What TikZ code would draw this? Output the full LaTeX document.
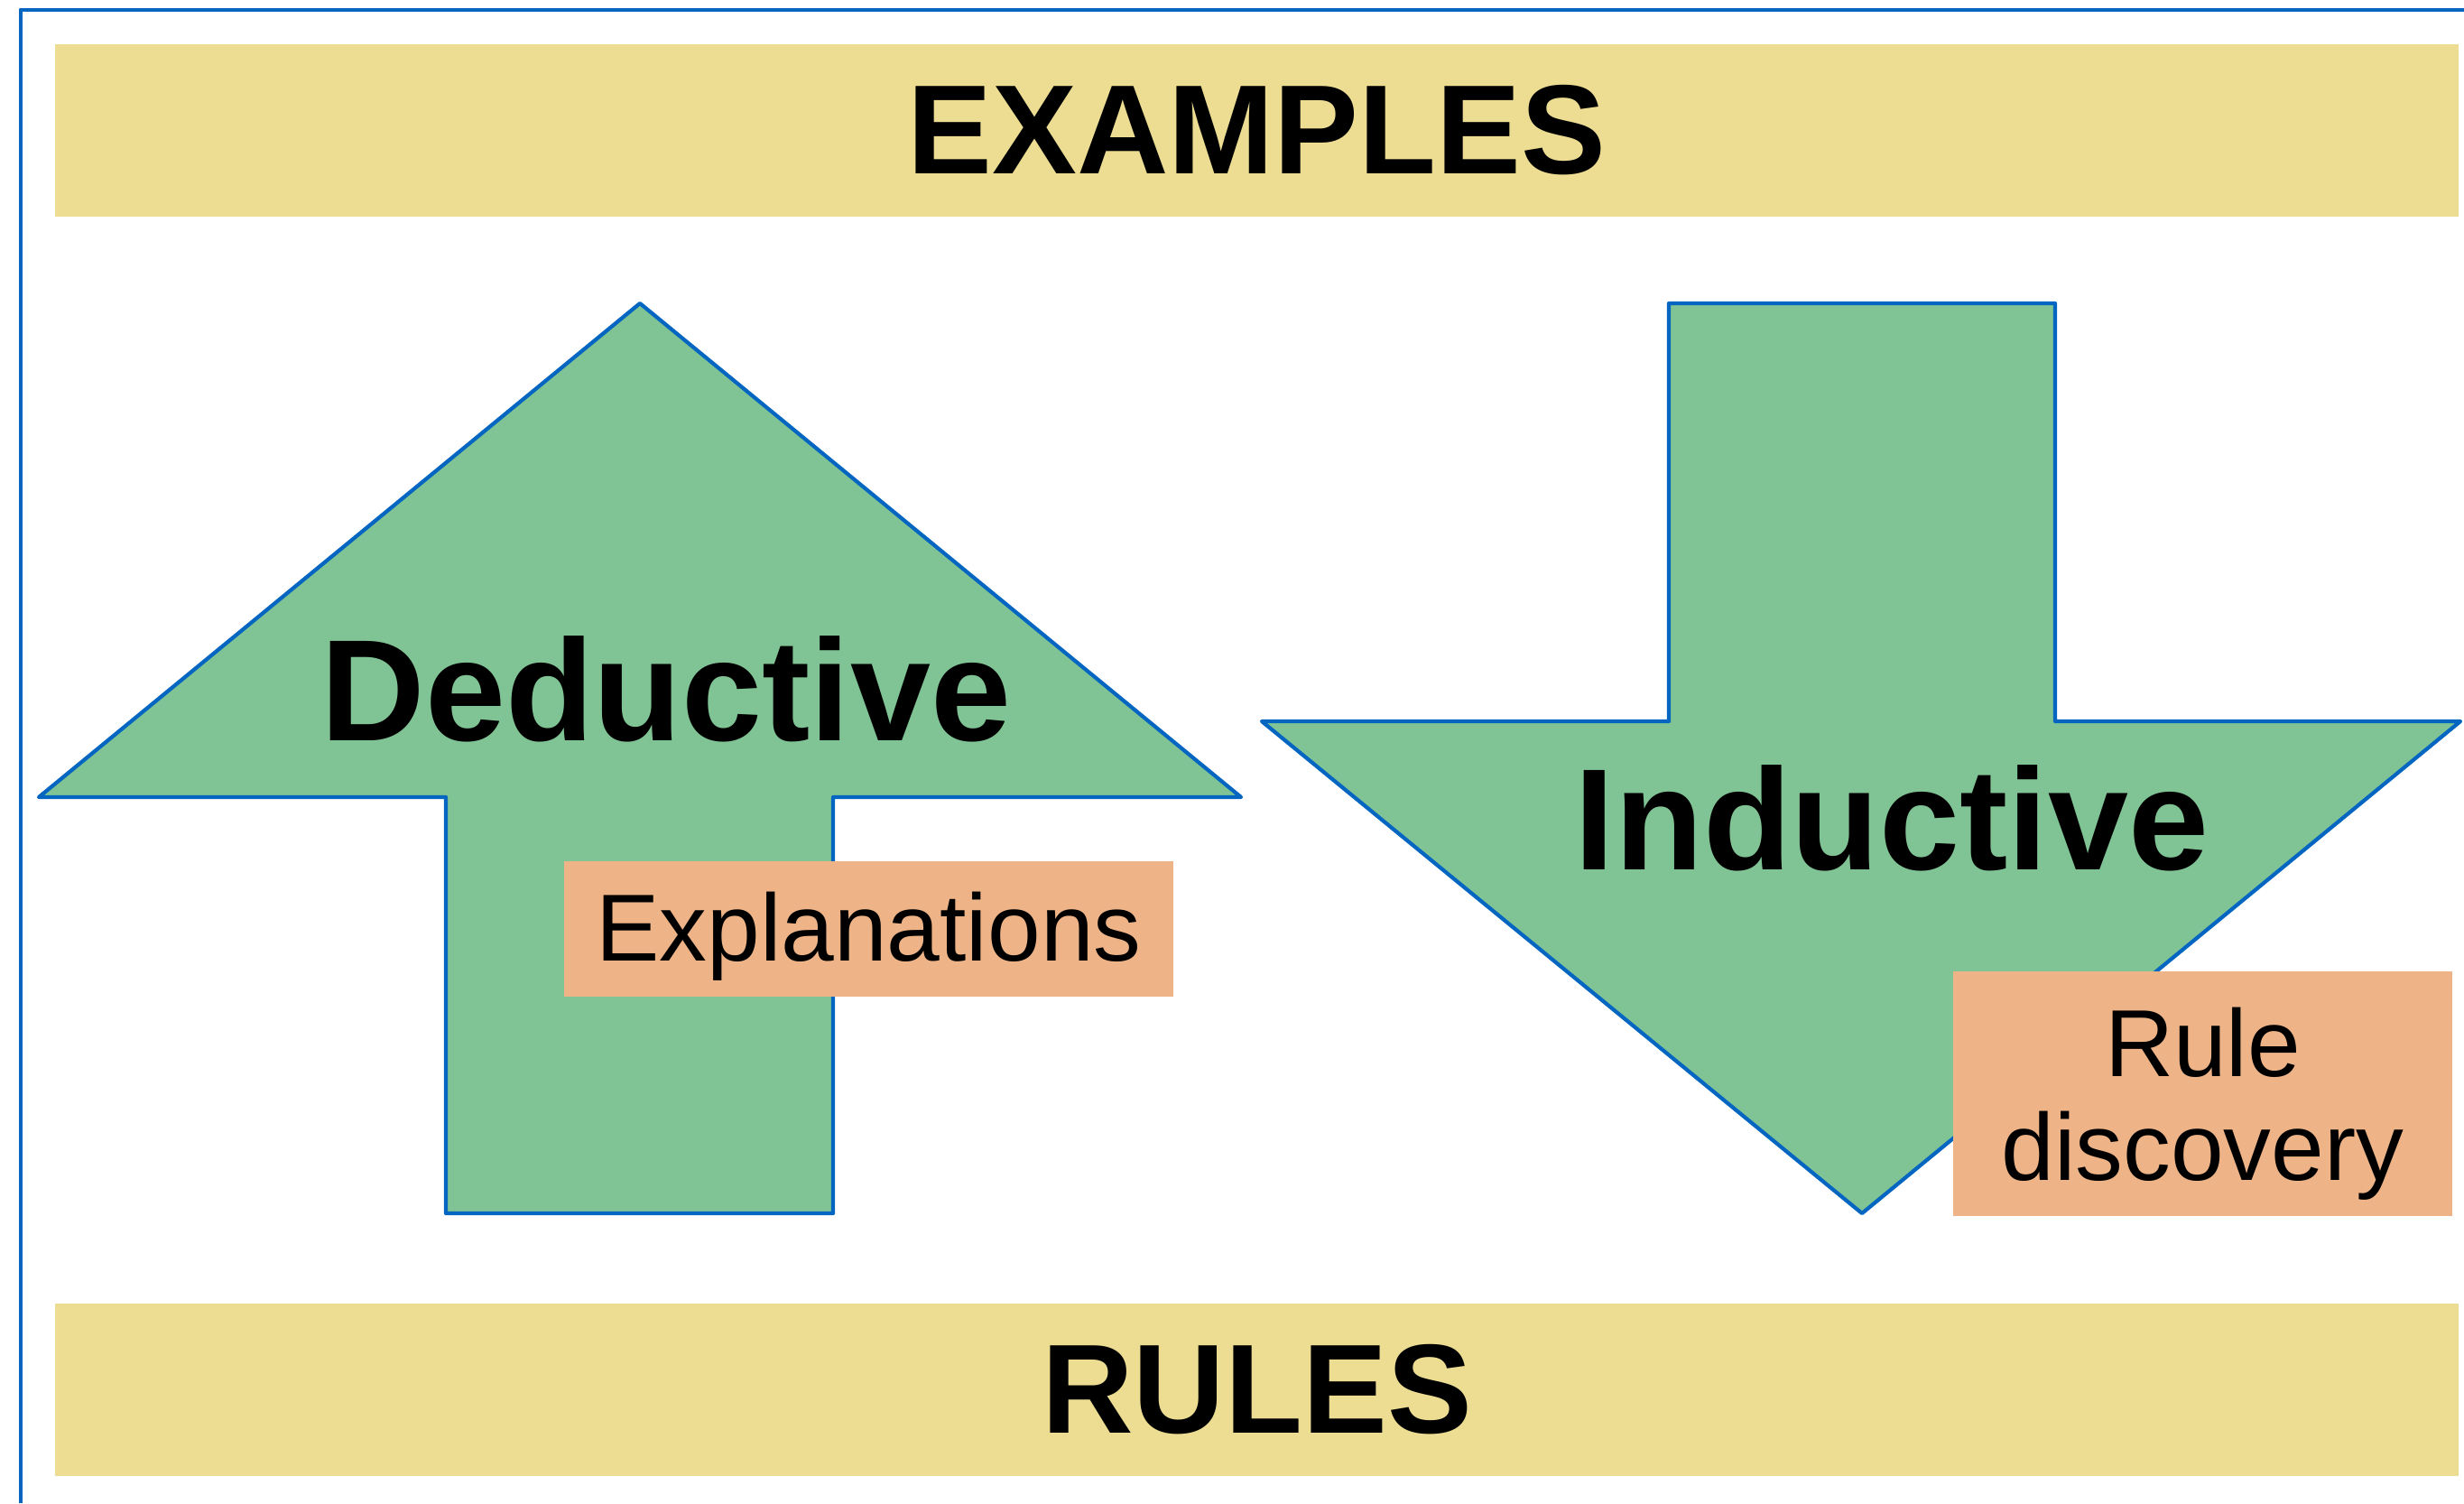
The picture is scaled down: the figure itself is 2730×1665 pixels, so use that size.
\documentclass[tikz,border=0pt]{standalone}
\usepackage{fontspec}
\setmainfont{Liberation Sans}
\definecolor{lineblue}{HTML}{0566C1}
\definecolor{bandyellow}{HTML}{ECDD93}
\definecolor{arrowgreen}{HTML}{80C495}
\definecolor{boxorange}{HTML}{EEB487}
\begin{document}
\begin{tikzpicture}[x=0.01cm, y=-0.01cm,
                    band/.style = {fill=bandyellow, minimum width=26.61cm, minimum height=1.91cm,
                                   font=\fontsize{40}{44}\selectfont\bfseries},
                    bigarrow/.style = {draw=lineblue, fill=arrowgreen, line width=1.2pt, line join=round},
                    tag/.style = {fill=boxorange, inner sep=0pt, align=center,
                                  font=\fontsize{30}{32.7}\selectfont},
                    kind/.style = {anchor=base, font=\fontsize{45.5}{50}\selectfont\bfseries}]
                            \useasboundingbox (0,0) rectangle (2730,1665);
                            % frame, cut off at the right and at the bottom
                            \draw[lineblue, line width=1.4pt, line join=round] (23,1665) -- (23,11) -- (2730,11);
                            \node[band] (examples) at (1392.5,144.5) {EXAMPLES};
                            \node[band] (rules) at (1392.5,1539.5) {RULES};
                            % up arrow
                            \draw[bigarrow] (709,336) -- (1375,883) -- (923,883) -- (923,1344)
                                -- (494,1344) -- (494,883) -- (43,883) -- cycle;
                            % down arrow
                            \draw[bigarrow] (1849,336) -- (2277,336) -- (2277,799) -- (2726,799)
                                -- (2063,1344) -- (1398,799) -- (1849,799) -- cycle;
                            \node[kind] (deductive) at (738,820) {Deductive};
                            \node[kind] (inductive) at (2096,963) {Inductive};
                            % text height/depth push the labels a bit down in their boxes
                            \node[tag, minimum width=6.75cm, minimum height=1.5cm, text height=0.95cm, text depth=0.25cm]
                                (explanations) at (962.5,1029) {Explanations};
                            \node[tag, minimum width=5.53cm, minimum height=2.71cm, text depth=0pt]
                                (discovery) at (2440.5,1211.5) {Rule\\discovery};
                        \end{tikzpicture}
\end{document}
